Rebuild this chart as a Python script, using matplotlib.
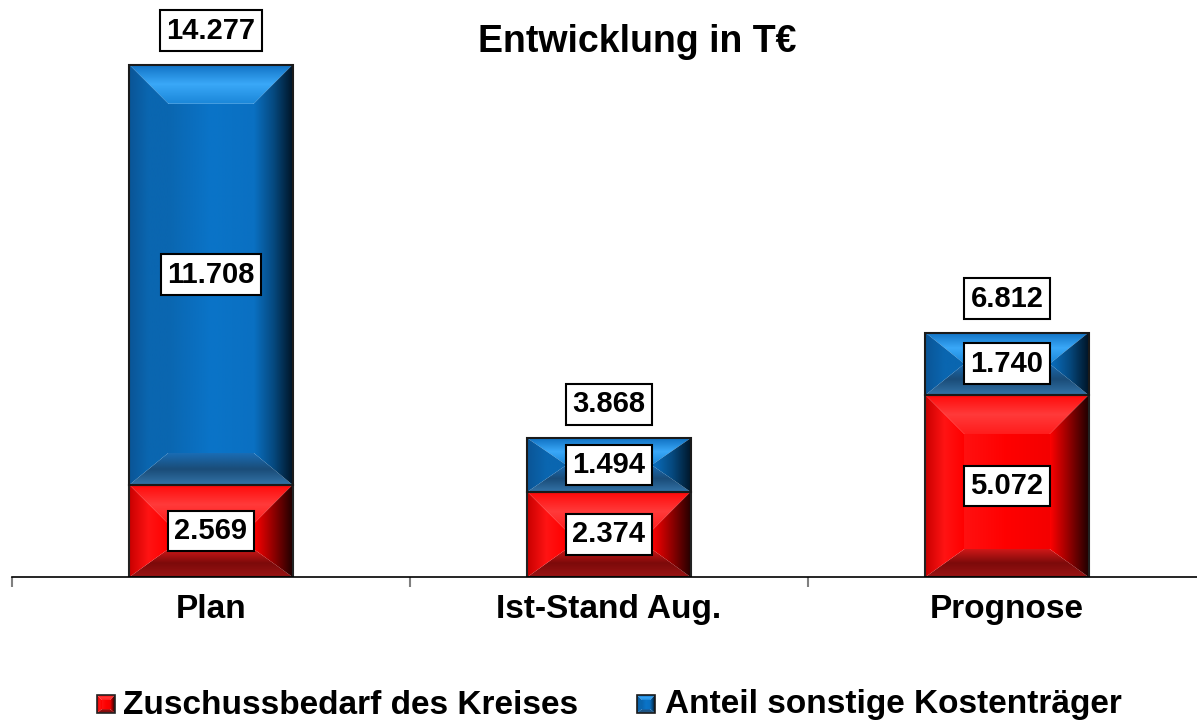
import numpy as np
import matplotlib
matplotlib.use('Agg')
import matplotlib.pyplot as plt
from matplotlib.patches import Polygon, Rectangle
from matplotlib.colors import to_rgb

# ---------------- data ----------------
categories = ['Plan', 'Ist-Stand Aug.', 'Prognose']
zuschuss = [2569, 2374, 5072]
sonstige = [11708, 1494, 1740]
totals = [14277, 3868, 6812]
series_names = ['Zuschussbedarf des Kreises', 'Anteil sonstige Kostenträger']
title = 'Entwicklung in T€'

plt.rcParams['font.family'] = ['Liberation Sans', 'DejaVu Sans']

def fmt(v):
    return f'{v:,}'.replace(',', '.')

W, H = 1197, 723
fig = plt.figure(figsize=(W / 100, H / 100), dpi=100)
AX_L, AX_B, AX_W, AX_H = 12, 146, 1194, 574
ax = fig.add_axes([AX_L / W, AX_B / H, AX_W / W, AX_H / H])
XLIM = (-0.5, 2.5)
YLIM = (0, 16000)
sx = (XLIM[1] - XLIM[0]) / AX_W   # data per px
sy = (YLIM[1] - YLIM[0]) / AX_H

STYLES = {
    'red': dict(
        center=['#ff1010', '#ff0000', '#f40000'],
        top=['#ff1c1c', '#ff3a3a', '#ff0a0a'],
        left=['#c80000', '#ff1414', '#ff0000'],
        right=['#ff0000', '#900000', '#1e0000'],
        bottom=['#9a1414', '#7c0a0a', '#d01818'],
        edge='#222222'),
    'blue': dict(
        center=['#0a66b0', '#0a74c8', '#0a70c2'],
        top=['#1a86d8', '#3aa8f8', '#0f70c2'],
        left=['#0a5596', '#0a66b0', '#0a66b0'],
        right=['#0a70c2', '#064a80', '#001426'],
        bottom=['#3474a8', '#1a4c78', '#1a6cb4'],
        edge='#1a1a1a'),
}


def grad_poly(a, verts, colors, direction, z):
    xs = [v[0] for v in verts]
    ys = [v[1] for v in verts]
    x0, x1, y0, y1 = min(xs), max(xs), min(ys), max(ys)
    if x1 - x0 <= 0 or y1 - y0 <= 0:
        return
    n = 200
    t = np.linspace(0, 1, n)
    stops = np.linspace(0, 1, len(colors))
    cols = np.array([to_rgb(c) for c in colors])
    rgb = np.stack([np.interp(t, stops, cols[:, k]) for k in range(3)], axis=1)
    img = rgb[None, :, :] if direction == 'x' else rgb[:, None, :]
    poly = Polygon(verts, closed=True, fc='none', ec='none')
    a.add_patch(poly)
    im = a.imshow(img, extent=(x0, x1, y0, y1), origin='lower', aspect='auto',
                  zorder=z, interpolation='bilinear')
    im.set_clip_path(poly)


def bevel_box(a, x0, x1, y0, y1, style, side, top, bot, z=2, lw=1.5):
    st = STYLES[style]
    h = y1 - y0
    t = min(top, h / 2)
    b = min(bot, h / 2)
    xi0, xi1 = x0 + side, x1 - side
    yi0, yi1 = y0 + b, y1 - t
    if yi1 < yi0:
        yi0 = yi1 = (y0 + y1) / 2
    grad_poly(a, [(xi0, yi0), (xi1, yi0), (xi1, yi1), (xi0, yi1)], st['center'], 'x', z)
    grad_poly(a, [(x0, y1), (x1, y1), (xi1, yi1), (xi0, yi1)], st['top'], 'y', z)
    grad_poly(a, [(x0, y0), (x1, y0), (xi1, yi0), (xi0, yi0)], st['bottom'], 'y', z)
    grad_poly(a, [(x0, y0), (xi0, yi0), (xi0, yi1), (x0, y1)], st['left'], 'x', z)
    grad_poly(a, [(x1, y0), (xi1, yi0), (xi1, yi1), (x1, y1)], st['right'], 'x', z)
    a.add_patch(Rectangle((x0, y0), x1 - x0, y1 - y0, fc='none', ec=st['edge'],
                          lw=lw, zorder=z + 0.5))


bar_w = 0.41
x = np.arange(len(categories))
label_kw = dict(ha='center', va='center', fontsize=21, fontweight='bold', color='black',
                zorder=10,
                bbox=dict(boxstyle='square,pad=0.22', fc='white', ec='black', lw=1.5))

for i in x:
    x0, x1 = i - bar_w / 2, i + bar_w / 2
    bevel_box(ax, x0, x1, 0, zuschuss[i], 'red', 39 * sx, 39 * sy, 28 * sy)
    bevel_box(ax, x0, x1, zuschuss[i], zuschuss[i] + sonstige[i], 'blue',
              39 * sx, 39 * sy, 32 * sy)
    ax.text(i, zuschuss[i] / 2, fmt(zuschuss[i]), **label_kw)
    ax.text(i, zuschuss[i] + sonstige[i] / 2, fmt(sonstige[i]), **label_kw)
    ax.annotate(fmt(totals[i]), xy=(i, totals[i]), xytext=(0, 24.5),
                textcoords='offset points', **label_kw)

ax.set_xlim(*XLIM)
ax.set_ylim(*YLIM)
for s in ['left', 'right', 'top']:
    ax.spines[s].set_visible(False)
ax.spines['bottom'].set_color('black')
ax.spines['bottom'].set_linewidth(1.2)
ax.set_yticks([])
ax.set_xticks(x)
ax.set_xticklabels(categories, fontsize=24, fontweight='bold')
ax.tick_params(axis='x', which='major', length=0, pad=12)
ax.set_xticks([-0.5, 0.5, 1.5, 2.5], minor=True)
ax.tick_params(axis='x', which='minor', length=7.5, width=1.5, color='#808080',
               direction='out')

fig.text(637 / W, 1 - 42 / H, title, ha='center', va='center', fontsize=27,
         fontweight='bold')

# legend (overlay axes in pixel coordinates)
lax = fig.add_axes([0, 0, 1, 1])
lax.set_xlim(0, W)
lax.set_ylim(0, H)
lax.axis('off')
leg_items = [(97, 'red', series_names[0], 123), (637, 'blue', series_names[1], 665)]
ly_c = H - 704
for mx, sty, name, tx in leg_items:
    bevel_box(lax, mx, mx + 18, ly_c - 9, ly_c + 9, sty, 5, 5, 4, z=2, lw=1.2)
    lax.text(tx, ly_c - 1, name, ha='left', va='center', fontsize=24, fontweight='bold')
lax.set_xlim(0, W)
lax.set_ylim(0, H)

fig.savefig('out.png', dpi=100)
